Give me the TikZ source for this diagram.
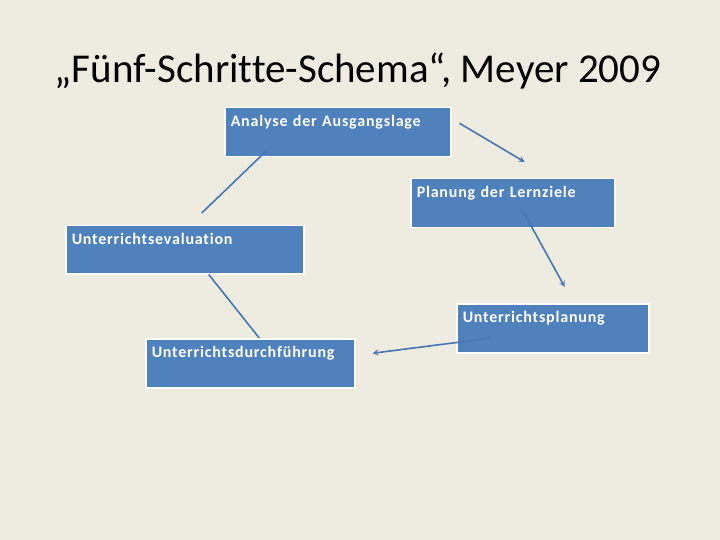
\documentclass[tikz,border=0pt]{standalone}
\usepackage{fontspec}
\setmainfont{Carlito}[Ligatures=NoCommon]
\newfontfamily\boxfont{Carlito}[Ligatures=NoCommon, LetterSpace=5]
\usepackage{tikz}
\usetikzlibrary{arrows}
\usetikzlibrary{positioning, calc}
\usepackage{xcolor}

\definecolor{slidebg}{HTML}{EEECE1}
\definecolor{boxblue}{HTML}{4F81BD}
\definecolor{lineblue}{HTML}{4776B2}

\tikzset{
  stage/.style={rectangle, draw=white, line width=1.5pt, fill=boxblue, text=white,
    font=\boxfont\bfseries\fontsize{16}{18}\selectfont, anchor=north west, align=left,
    inner xsep=6pt, inner ysep=5pt, text height=14pt, text depth=25pt},
  link/.style={lineblue, line width=1.6pt, >=stealth}
}

\begin{document}
\begin{tikzpicture}[x=1pt, y=-1pt]
      \fill[slidebg] (0, 0) rectangle (720, 540);
      \useasboundingbox (0, 0) rectangle (720, 540);

      \node[anchor=base, font=\fontsize{41}{48}\selectfont] (title) at (358, 83) {„Fünf-Schritte-Schema“, Meyer 2009};

      \node[stage, text width=214pt] (ana) at (224, 107) {Analyse der Ausgangslage};
      \node[stage, text width=192pt] (ziele) at (410, 178) {Planung der Lernziele};
      \node[stage, text width=180pt] (plan) at (456, 303) {Unterrichtsplanung};
      \node[stage, text width=197pt] (durch) at (145, 338) {Unterrichtsdurchführung};
      \node[stage, text width=226pt, text depth=24pt] (eval) at (65, 225) {Unterrichtsevaluation};

      \draw[->, link] ([shift={(8, -9)}]ana.east) -- ([shift={(12, -16)}]ziele.north);
      \draw[->, link] ([shift={(11, -16)}]ziele.south) -- ([shift={(12, -16)}]plan.north);
      \draw[->, link] ([shift={(34, 10)}]plan.west) -- ([shift={(17, -10)}]durch.east);
      \draw[link] ([shift={(9, 0)}]durch.north) -- ([shift={(24, 0)}]eval.south);
      \draw[link] ([shift={(17, -12)}]eval.north) -- ([shift={(-71, -7)}]ana.south);

    \end{tikzpicture}
\end{document}
